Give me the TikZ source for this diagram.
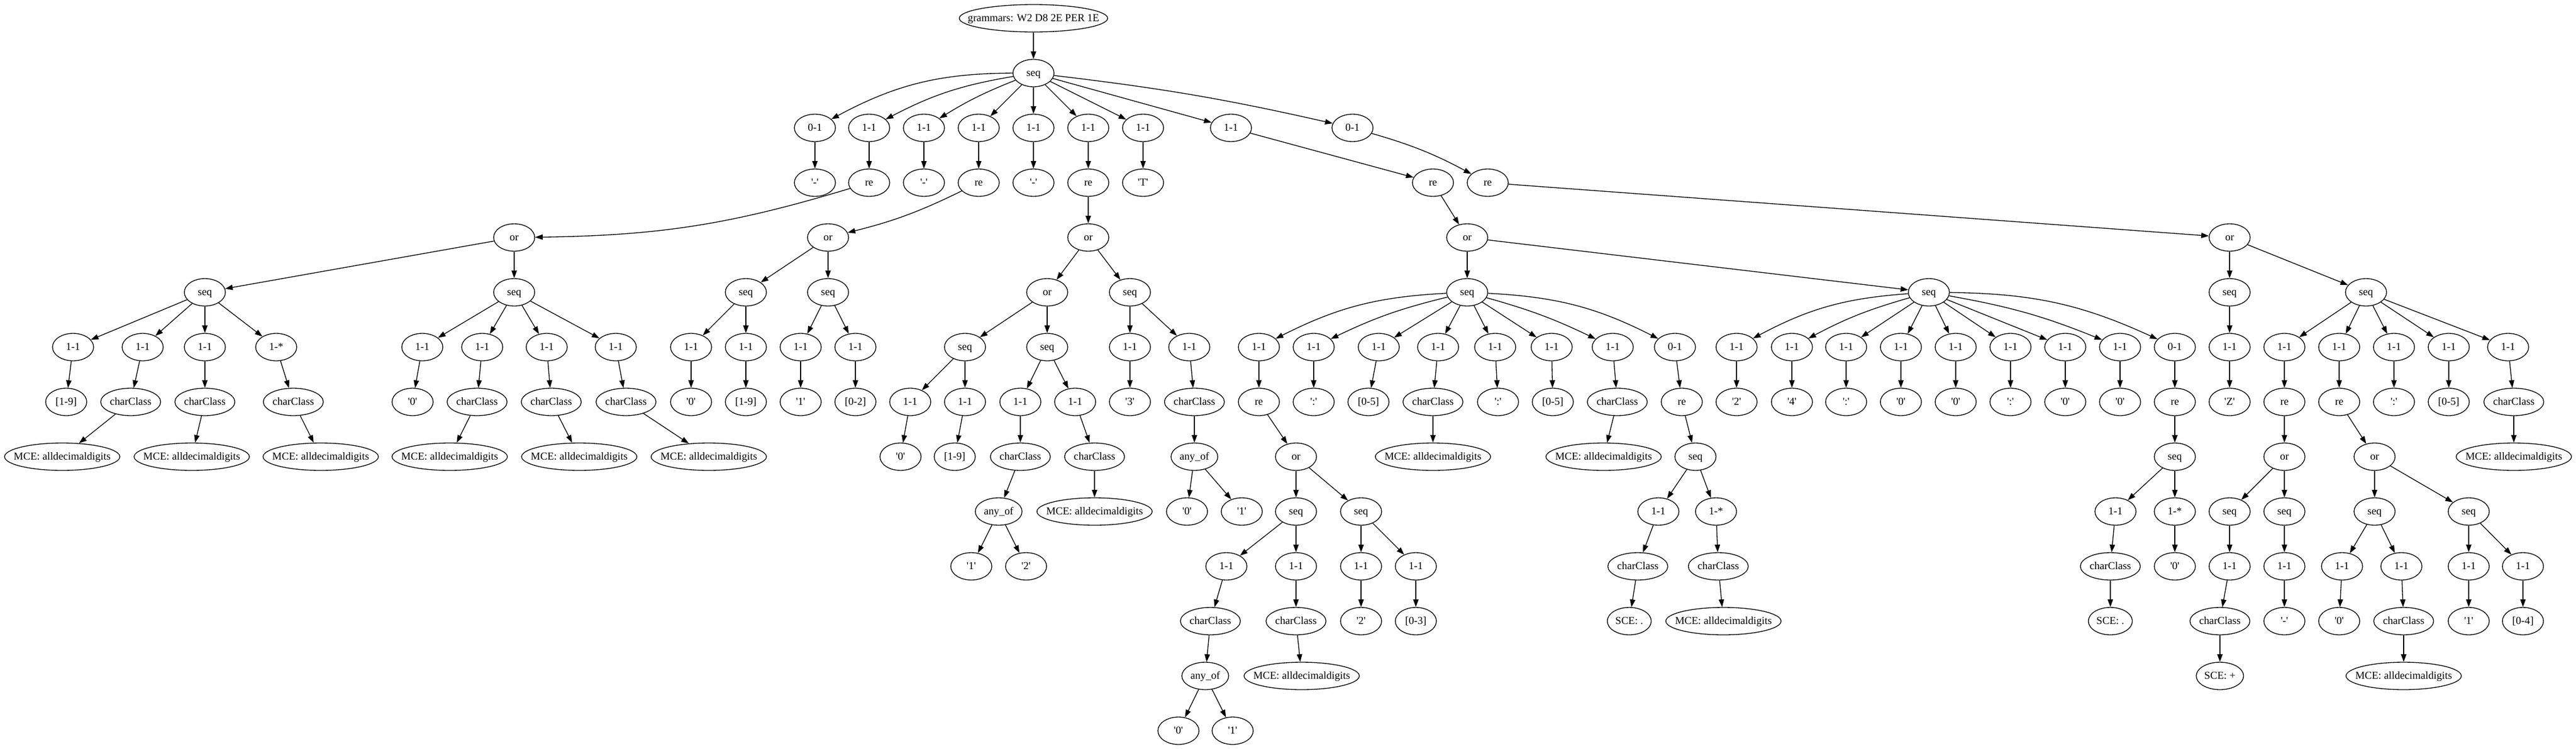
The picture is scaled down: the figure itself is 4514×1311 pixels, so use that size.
\documentclass[tikz,border=0pt]{standalone}
\usepackage{fontspec}
\newfontfamily\gv{Liberation Serif}
\usetikzlibrary{shapes.geometric,arrows.meta}
\newcommand\lbl[1]{\makebox[0pt]{#1}}
\newcommand\nd[5][]{\node[gv,#1] (#2) at (#3,{32+96*#4}) {\lbl{#5}};}
\tikzset{
  gv/.style={ellipse,draw,line width=1pt,minimum width=54pt,minimum height=36pt,
    inner sep=0pt,text height=11pt,text depth=3pt,font=\gv\fontsize{14}{16}\selectfont},
  cc/.style={minimum width=78.75pt},
  ao/.style={minimum width=61.5pt},
  sced/.style={minimum width=57.75pt},
  scep/.style={minimum width=62.25pt},
  mce/.style={minimum width=151.5pt},
  rootn/.style={minimum width=195pt},
  ar/.style={line width=1pt,-{Triangle[length=10pt,width=7pt]}},
}
\begin{document}
\begin{tikzpicture}[x=0.75pt,y=-0.75pt]
\fill[white] (0,0) rectangle (4514,1311);
\useasboundingbox (0,0) rectangle (4514,1311);
% rank 0-3
\nd[rootn]{root}{1811}{0}{grammars: W2 D8 2E PER 1E}
\nd{s0}{1811}{1}{seq}
\nd{a1}{1428}{2}{0-1}
\nd{a2}{1523}{2}{1-1}
\nd{a3}{1619}{2}{1-1}
\nd{a4}{1715}{2}{1-1}
\nd{a5}{1811}{2}{1-1}
\nd{a6}{1907}{2}{1-1}
\nd{a7}{2003}{2}{1-1}
\nd{a8}{2157}{2}{1-1}
\nd{a9}{2370}{2}{0-1}
\nd{b1}{1428}{3}{'-'}
\nd{b2}{1523}{3}{re}
\nd{b3}{1619}{3}{'-'}
\nd{b4}{1715}{3}{re}
\nd{b5}{1811}{3}{'-'}
\nd{b6}{1907}{3}{re}
\nd{b7}{2003}{3}{'T'}
\nd{b8}{2511}{3}{re}
\nd{b9}{2607}{3}{re}
\nd{or1}{901}{4}{or}
\nd{or2}{1451}{4}{or}
\nd{or3}{1907}{4}{or}
\nd{or4}{2571}{4}{or}
\nd{or5}{3907}{4}{or}
% year
\nd{ys1}{359}{5}{seq}
\nd{ys2}{901}{5}{seq}
\nd{y1}{128}{6}{1-1}
\nd{y2}{250}{6}{1-1}
\nd{y3}{359}{6}{1-1}
\nd{y4}{484}{6}{1-*}
\nd{y1v}{116}{7}{[1-9]}
\nd[cc]{y2c}{229}{7}{charClass}
\nd[cc]{y3c}{359}{7}{charClass}
\nd[cc]{y4c}{514}{7}{charClass}
\nd[mce]{y2m}{109}{8}{MCE: alldecimaldigits}
\nd[mce]{y3m}{336}{8}{MCE: alldecimaldigits}
\nd[mce]{y4m}{562}{8}{MCE: alldecimaldigits}
\nd{z1}{740}{6}{1-1}
\nd{z2}{845}{6}{1-1}
\nd{z3}{958}{6}{1-1}
\nd{z4}{1079}{6}{1-1}
\nd{z1v}{723}{7}{'0'}
\nd[cc]{z2c}{836}{7}{charClass}
\nd[cc]{z3c}{966}{7}{charClass}
\nd[cc]{z4c}{1097}{7}{charClass}
\nd[mce]{z2m}{788}{8}{MCE: alldecimaldigits}
\nd[mce]{z3m}{1015}{8}{MCE: alldecimaldigits}
\nd[mce]{z4m}{1242}{8}{MCE: alldecimaldigits}
% month
\nd{ms1}{1307}{5}{seq}
\nd{ms2}{1451}{5}{seq}
\nd{m1}{1211}{6}{1-1}
\nd{m2}{1307}{6}{1-1}
\nd{m3}{1403}{6}{1-1}
\nd{m4}{1499}{6}{1-1}
\nd{m1v}{1211}{7}{'0'}
\nd{m2v}{1307}{7}{[1-9]}
\nd{m3v}{1403}{7}{'1'}
\nd{m4v}{1499}{7}{[0-2]}
% day
\nd{dor}{1835}{5}{or}
\nd{ds2}{1980}{5}{seq}
\nd{ds11}{1691}{6}{seq}
\nd{ds12}{1835}{6}{seq}
\nd{d21}{1980}{6}{1-1}
\nd{d22}{2084}{6}{1-1}
\nd{d111}{1595}{7}{1-1}
\nd{d112}{1691}{7}{1-1}
\nd{d121}{1788}{7}{1-1}
\nd{d122}{1884}{7}{1-1}
\nd{d21v}{1980}{7}{'3'}
\nd[cc]{d22c}{2093}{7}{charClass}
\nd{d111v}{1578}{8}{'0'}
\nd{d112v}{1673}{8}{[1-9]}
\nd[cc]{d121c}{1788}{8}{charClass}
\nd[cc]{d122c}{1918}{8}{charClass}
\nd[ao]{d22a}{2093}{8}{any\_of}
\nd[ao]{d121a}{1750}{9}{any\_of}
\nd[mce]{d122m}{1918}{9}{MCE: alldecimaldigits}
\nd{d22a0}{2080}{9}{'0'}
\nd{d22a1}{2176}{9}{'1'}
\nd{d121a1}{1702}{10}{'1'}
\nd{d121a2}{1798}{10}{'2'}
% time
\nd{ts1}{2571}{5}{seq}
\nd{ts2}{3380}{5}{seq}
\nd{t1}{2206}{6}{1-1}
\nd{t2}{2302}{6}{1-1}
\nd{t3}{2416}{6}{1-1}
\nd{t4}{2520}{6}{1-1}
\nd{t5}{2620}{6}{1-1}
\nd{t6}{2719}{6}{1-1}
\nd{t7}{2826}{6}{1-1}
\nd{t8}{2935}{6}{0-1}
\nd{t1r}{2206}{7}{re}
\nd{t2v}{2302}{7}{':'}
\nd{t3v}{2398}{7}{[0-5]}
\nd[cc]{t4c}{2511}{7}{charClass}
\nd{t5v}{2625}{7}{':'}
\nd{t6v}{2721}{7}{[0-5]}
\nd[cc]{t7c}{2834}{7}{charClass}
\nd{t8r}{2947}{7}{re}
\nd{t1o}{2271}{8}{or}
\nd[mce]{t4m}{2511}{8}{MCE: alldecimaldigits}
\nd[mce]{t7m}{2810}{8}{MCE: alldecimaldigits}
\nd{t8s}{2971}{8}{seq}
\nd{t1s1}{2271}{9}{seq}
\nd{t1s2}{2385}{9}{seq}
\nd{t81}{2906}{9}{1-1}
\nd{t82}{3007}{9}{1-*}
\nd{t1s11}{2149}{10}{1-1}
\nd{t1s12}{2271}{10}{1-1}
\nd{t1s21}{2385}{10}{1-1}
\nd{t1s22}{2481}{10}{1-1}
\nd[cc]{t81c}{2870}{10}{charClass}
\nd[cc]{t82c}{3011}{10}{charClass}
\nd[cc]{t1s11c}{2121}{11}{charClass}
\nd[cc]{t1s12c}{2271}{11}{charClass}
\nd{t1s21v}{2385}{11}{'2'}
\nd{t1s22v}{2481}{11}{[0-3]}
\nd[sced]{t81s}{2855}{11}{SCE: .}
\nd[mce]{t82m}{3020}{11}{MCE: alldecimaldigits}
\nd[ao]{t1s11a}{2112}{12}{any\_of}
\nd[mce]{t1s12m}{2281}{12}{MCE: alldecimaldigits}
\nd{t1a0}{2065}{13}{'0'}
\nd{t1a1}{2160}{13}{'1'}
% 24:00:00
\nd{u1}{3043}{6}{1-1}
\nd{u2}{3140}{6}{1-1}
\nd{u3}{3235}{6}{1-1}
\nd{u4}{3331}{6}{1-1}
\nd{u5}{3427}{6}{1-1}
\nd{u6}{3523}{6}{1-1}
\nd{u7}{3619}{6}{1-1}
\nd{u8}{3715}{6}{1-1}
\nd{u9}{3811}{6}{0-1}
\nd{u1v}{3043}{7}{'2'}
\nd{u2v}{3140}{7}{'4'}
\nd{u3v}{3235}{7}{':'}
\nd{u4v}{3331}{7}{'0'}
\nd{u5v}{3427}{7}{'0'}
\nd{u6v}{3523}{7}{':'}
\nd{u7v}{3619}{7}{'0'}
\nd{u8v}{3715}{7}{'0'}
\nd{u9r}{3811}{7}{re}
\nd{u9s}{3811}{8}{seq}
\nd{u91}{3707}{9}{1-1}
\nd{u92}{3811}{9}{1-*}
\nd[cc]{u91c}{3698}{10}{charClass}
\nd{u92v}{3811}{10}{'0'}
\nd[sced]{u91s}{3698}{11}{SCE: .}
% timezone
\nd{zs1}{3907}{5}{seq}
\nd{zs2}{4146}{5}{seq}
\nd{zz}{3907}{6}{1-1}
\nd{w1}{4003}{6}{1-1}
\nd{w2}{4099}{6}{1-1}
\nd{w3}{4195}{6}{1-1}
\nd{w4}{4291}{6}{1-1}
\nd{w5}{4395}{6}{1-1}
\nd{zzv}{3907}{7}{'Z'}
\nd{w1r}{4003}{7}{re}
\nd{w2r}{4099}{7}{re}
\nd{w3v}{4195}{7}{':'}
\nd{w4v}{4291}{7}{[0-5]}
\nd[cc]{w5c}{4405}{7}{charClass}
\nd{w1o}{4003}{8}{or}
\nd{w2o}{4161}{8}{or}
\nd[mce]{w5m}{4405}{8}{MCE: alldecimaldigits}
\nd{w1s1}{3907}{9}{seq}
\nd{w1s2}{4003}{9}{seq}
\nd{w2s1}{4161}{9}{seq}
\nd{w2s2}{4326}{9}{seq}
\nd{w1s1a}{3907}{10}{1-1}
\nd{w1s2a}{4003}{10}{1-1}
\nd{w2s1a}{4104}{10}{1-1}
\nd{w2s1b}{4208}{10}{1-1}
\nd{w2s2a}{4326}{10}{1-1}
\nd{w2s2b}{4421}{10}{1-1}
\nd[cc]{w1s1c}{3890}{11}{charClass}
\nd{w1s2v}{4003}{11}{'-'}
\nd{w2s1av}{4099}{11}{'0'}
\nd[cc]{w2s1bc}{4212}{11}{charClass}
\nd{w2s2av}{4326}{11}{'1'}
\nd{w2s2bv}{4421}{11}{[0-4]}
\nd[scep]{w1s1cs}{3890}{12}{SCE: +}
\nd[mce]{w2m}{4212}{12}{MCE: alldecimaldigits}
% straight edges
\foreach \p/\c in {root/s0, s0/a4, s0/a5, s0/a6, s0/a7, s0/a8,
 a1/b1, a2/b2, a3/b3, a4/b4, a5/b5, a6/b6, a7/b7, a8/b8, b6/or3, b8/or4, b9/or5,
 or1/ys1, or1/ys2, ys1/y1, ys1/y2, ys1/y3, ys1/y4, y1/y1v, y2/y2c, y3/y3c, y4/y4c,
 y2c/y2m, y3c/y3m, y4c/y4m, ys2/z1, ys2/z2, ys2/z3, ys2/z4, z1/z1v, z2/z2c, z3/z3c,
 z4/z4c, z2c/z2m, z3c/z3m, z4c/z4m,
 or2/ms1, or2/ms2, ms1/m1, ms1/m2, ms2/m3, ms2/m4, m1/m1v, m2/m2v, m3/m3v, m4/m4v,
 or3/dor, or3/ds2, dor/ds11, dor/ds12, ds11/d111, ds11/d112, ds12/d121, ds12/d122,
 d111/d111v, d112/d112v, d121/d121c, d122/d122c, d121c/d121a, d122c/d122m,
 d121a/d121a1, d121a/d121a2, ds2/d21, ds2/d22, d21/d21v, d22/d22c, d22c/d22a,
 d22a/d22a0, d22a/d22a1,
 or4/ts1, or4/ts2, ts1/t3, ts1/t4, ts1/t5, ts1/t6,
 t1/t1r, t2/t2v, t3/t3v, t4/t4c, t5/t5v, t6/t6v, t7/t7c, t8/t8r,
 t1r/t1o, t4c/t4m, t7c/t7m, t8r/t8s, t1o/t1s1, t1o/t1s2, t8s/t81, t8s/t82,
 t1s1/t1s11, t1s1/t1s12, t1s2/t1s21, t1s2/t1s22, t81/t81c, t82/t82c,
 t1s11/t1s11c, t1s12/t1s12c, t1s21/t1s21v, t1s22/t1s22v, t81c/t81s, t82c/t82m,
 t1s11c/t1s11a, t1s12c/t1s12m, t1s11a/t1a0, t1s11a/t1a1,
 ts2/u3, ts2/u4, ts2/u5, ts2/u6, ts2/u7,
 u1/u1v, u2/u2v, u3/u3v, u4/u4v, u5/u5v, u6/u6v, u7/u7v, u8/u8v, u9/u9r, u9r/u9s,
 u9s/u91, u9s/u92, u91/u91c, u92/u92v, u91c/u91s,
 or5/zs1, or5/zs2, zs1/zz, zz/zzv, zs2/w1, zs2/w2, zs2/w3, zs2/w4, zs2/w5,
 w1/w1r, w2/w2r, w3/w3v, w4/w4v, w5/w5c, w1r/w1o, w2r/w2o, w5c/w5m,
 w1o/w1s1, w1o/w1s2, w2o/w2s1, w2o/w2s2,
 w1s1/w1s1a, w1s2/w1s2a, w2s1/w2s1a, w2s1/w2s1b, w2s2/w2s2a, w2s2/w2s2b,
 w1s1a/w1s1c, w1s2a/w1s2v, w2s1a/w2s1av, w2s1b/w2s1bc, w2s2a/w2s2av, w2s2b/w2s2bv,
 w1s1c/w1s1cs, w2s1bc/w2m}
 \draw[ar] (\p) -- (\c);
% curved edges
\draw[ar] (s0) to[bend right=14] (a1);
\draw[ar] (s0) to[bend right=9] (a2);
\draw[ar] (s0) to[bend right=5] (a3);
\draw[ar] (s0) to[bend left=3] (a9);
\draw[ar] (a9) to[bend left=6] (b9);
\draw[ar] (b2) to[bend left=8] (or1);
\draw[ar] (b4) to[bend left=6] (or2);
\draw[ar] (ts1) to[bend right=12] (t1);
\draw[ar] (ts1) to[bend right=6] (t2);
\draw[ar] (ts1) to[bend left=5] (t7);
\draw[ar] (ts1) to[bend left=12] (t8);
\draw[ar] (ts2) to[bend right=12] (u1);
\draw[ar] (ts2) to[bend right=6] (u2);
\draw[ar] (ts2) to[bend left=6] (u8);
\draw[ar] (ts2) to[bend left=12] (u9);
\end{tikzpicture}
\end{document}
